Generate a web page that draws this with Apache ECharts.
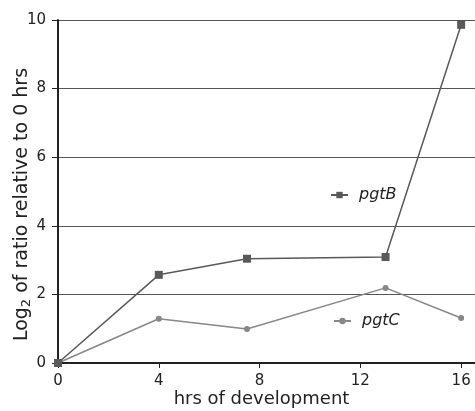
<!DOCTYPE html>
<html><head><meta charset="utf-8">
<script src="https://cdn.jsdelivr.net/npm/echarts@6/dist/echarts.min.js"></script>
<style>html,body{margin:0;padding:0;background:#fff}#c{width:475px;height:411px}</style>
</head><body><div id="c"></div>
<script>
const hours = [0, 4, 7.5, 13, 16];
const pgtB = [0, 2.57, 3.04, 3.09, 9.86];
const pgtC = [0, 1.29, 0.99, 2.19, 1.31];
const xTicks = [0, 4, 8, 12, 16];
const yTicks = [0, 2, 4, 6, 8, 10];

const font = 'DejaVu Sans';
const chart = echarts.init(document.getElementById('c'), null, {renderer: 'canvas'});
const legText = {fontFamily: font, fontSize: 16, fontStyle: 'italic', color: '#222', padding: [0, 0, 0, 6]};
chart.setOption({
  animation: false,
  backgroundColor: '#fff',
  grid: {left: 58, top: 20, bottom: 48, right: 0, containLabel: false, outerBoundsMode: 'none'},
  legend: [
    {data: ['pgtB'], left: 325, top: 182, itemWidth: 17, itemHeight: 8, textStyle: legText},
    {data: ['pgtC'], left: 328, top: 308, itemWidth: 17, itemHeight: 8, textStyle: legText}
  ],
  xAxis: [{
    type: 'value', min: 0, max: 16.55, interval: 4,
    axisLine: {show: true, onZero: false, lineStyle: {color: '#222', width: 2}},
    axisTick: {show: true, length: 5, lineStyle: {color: '#222'},
      customValues: xTicks},
    axisLabel: {fontFamily: font, fontSize: 15, color: '#222', margin: 11,
      showMaxLabel: false,
      formatter: v => xTicks.includes(v) ? String(v) : ''},
    splitLine: {show: false},
    name: 'hrs of development', nameLocation: 'middle', nameGap: 27, nameMoveOverlap: false,
    nameTextStyle: {fontFamily: font, fontSize: 18, color: '#222', padding: [0, 10, 0, 0]}
  }, {
    type: 'value', position: 'top', min: 0, max: 16.55,
    axisLine: {show: true, lineStyle: {color: '#222', width: 2}},
    axisTick: {show: false}, axisLabel: {show: false}, splitLine: {show: false}
  }],
  yAxis: {
    type: 'value', min: 0, max: 10, interval: 2,
    axisLine: {show: true, lineStyle: {color: '#222', width: 2}},
    axisTick: {show: true, length: 6, lineStyle: {color: '#222'}},
    axisLabel: {fontFamily: font, fontSize: 15, color: '#222', margin: 12,
      formatter: v => yTicks.includes(v) ? String(v) : ''},
    splitLine: {show: true, lineStyle: {color: '#555', width: 1}},
    name: '{n|Log}{s|2}{n| of ratio relative to 0 hrs}',
    nameLocation: 'middle', nameGap: 25, nameMoveOverlap: false,
    nameTextStyle: {fontFamily: font, fontSize: 19, color: '#222', padding: [0, 26, 0, 0],
      rich: {n: {fontFamily: font, fontSize: 19, color: '#222'},
             s: {fontFamily: font, fontSize: 13, color: '#222', verticalAlign: 'bottom', padding: [8, 0, 0, 0]}}}
  },
  series: [
    {name: 'pgtB', type: 'line', data: hours.map((h, i) => [h, pgtB[i]]),
     symbol: 'rect', symbolSize: 8, itemStyle: {color: '#595959'},
     lineStyle: {color: '#595959', width: 1.5}, z: 3},
    {name: 'pgtC', type: 'line', data: hours.map((h, i) => [h, pgtC[i]]),
     symbol: 'circle', symbolSize: 6, itemStyle: {color: '#888'},
     lineStyle: {color: '#888', width: 1.5}, z: 2}
  ]
});
</script></body></html>
